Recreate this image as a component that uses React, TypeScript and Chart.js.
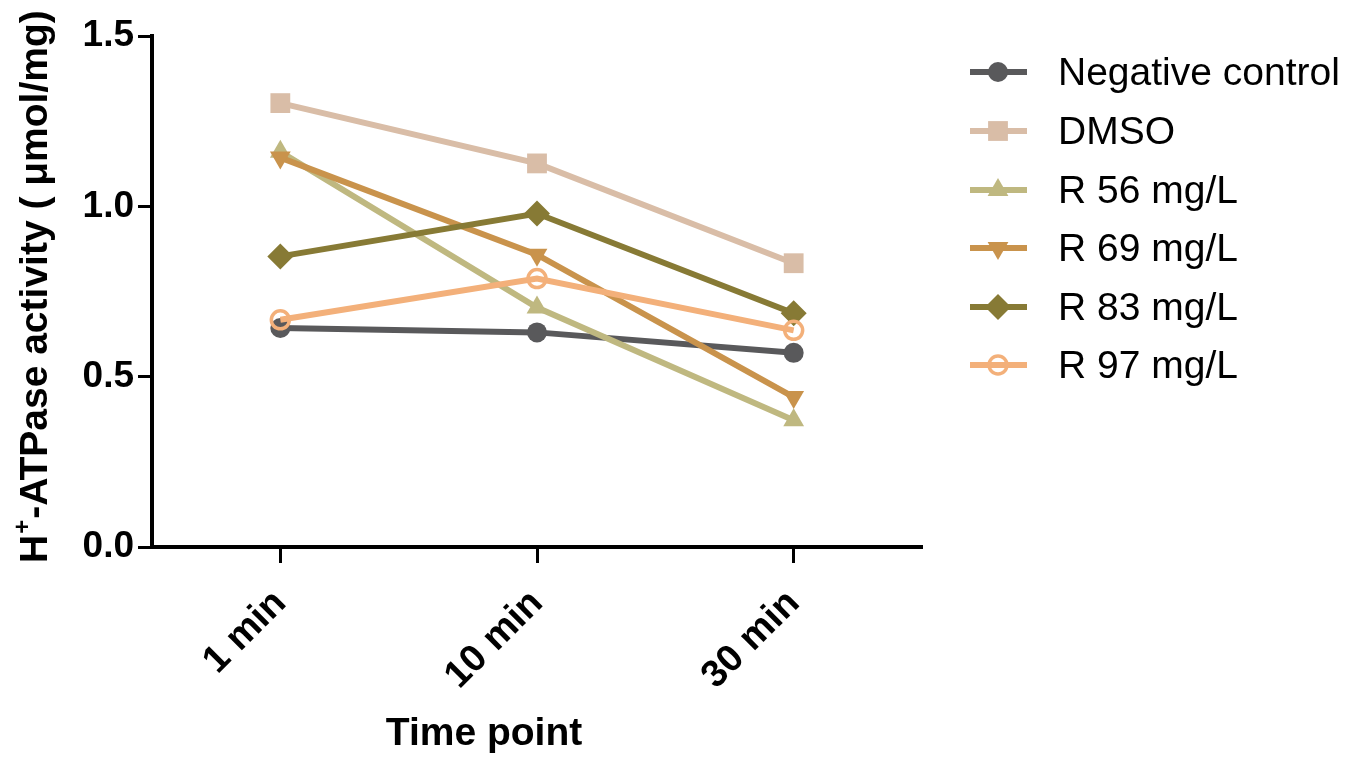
import React, { useEffect, useRef } from "react";
import { Chart, registerables } from "chart.js";

Chart.register(...registerables);

const categories = ["1 min", "10 min", "30 min"];
const seriesNames = ["Negative control", "DMSO", "R 56 mg/L", "R 69 mg/L", "R 83 mg/L", "R 97 mg/L"];
const negativeControl = [0.643, 0.630, 0.570];
const dmso = [1.303, 1.126, 0.833];
const r56 = [1.160, 0.703, 0.372];
const r69 = [1.143, 0.858, 0.440];
const r83 = [0.853, 0.979, 0.686];
const r97 = [0.667, 0.788, 0.636];
const yTicks = [0, 0.5, 1.0, 1.5];

const colors = ["#59595b", "#d9bda7", "#bfb880", "#c9934c", "#877a35", "#f3b07a"];
const styles = ["circle", "rect", "triangle", "triangle", "rectRot", "circle"];
const rotations = [0, 0, 0, 180, 0, 0];
const radii = [10, 14, 12, 12, 13, 9];
const hollow = [false, false, false, false, false, true];

const FONT = '"Liberation Sans", Arial, sans-serif';

function drawMarker(ctx: CanvasRenderingContext2D, i: number, x: number, y: number) {
  const r = radii[i];
  const st = styles[i];
  ctx.save();
  ctx.beginPath();
  if (st === "circle") {
    ctx.arc(x, y, r, 0, Math.PI * 2);
  } else if (st === "rect") {
    const s = Math.SQRT1_2 * r;
    ctx.rect(x - s, y - s, 2 * s, 2 * s);
  } else if (st === "triangle") {
    let rad = (rotations[i] * Math.PI) / 180;
    ctx.moveTo(x + Math.sin(rad) * r, y - Math.cos(rad) * r);
    rad += (2 * Math.PI) / 3;
    ctx.lineTo(x + Math.sin(rad) * r, y - Math.cos(rad) * r);
    rad += (2 * Math.PI) / 3;
    ctx.lineTo(x + Math.sin(rad) * r, y - Math.cos(rad) * r);
    ctx.closePath();
  } else if (st === "rectRot") {
    ctx.moveTo(x - r, y);
    ctx.lineTo(x, y + r);
    ctx.lineTo(x + r, y);
    ctx.lineTo(x, y - r);
    ctx.closePath();
  }
  if (hollow[i]) {
    ctx.lineWidth = 3.5;
    ctx.strokeStyle = colors[i];
    ctx.stroke();
  } else {
    ctx.fillStyle = colors[i];
    ctx.fill();
  }
  ctx.restore();
}

const decorPlugin = {
  id: "decor",
  afterDraw(chart: any) {
    const ctx: CanvasRenderingContext2D = chart.ctx;
    ctx.save();
    // Legend
    const rowY = [72, 131, 190, 248, 307, 365];
    seriesNames.forEach((name, i) => {
      const y = rowY[i];
      ctx.strokeStyle = colors[i];
      ctx.lineWidth = 6;
      ctx.beginPath();
      ctx.moveTo(970, y);
      ctx.lineTo(1027, y);
      ctx.stroke();
      drawMarker(ctx, i, 998, y);
      ctx.fillStyle = "#000";
      ctx.font = `39px ${FONT}`;
      ctx.textAlign = "left";
      ctx.textBaseline = "middle";
      ctx.fillText(name, 1058, y + 2);
    });
    // Y axis title with superscript
    ctx.save();
    ctx.translate(47, 563);
    ctx.rotate(-Math.PI / 2);
    ctx.fillStyle = "#000";
    ctx.textAlign = "left";
    ctx.textBaseline = "alphabetic";
    ctx.font = `bold 39px ${FONT}`;
    const wH = ctx.measureText("H").width;
    ctx.fillText("H", 0, 0);
    ctx.font = `bold 24px ${FONT}`;
    const wP = ctx.measureText("+").width;
    ctx.fillText("+", wH + 1, -17);
    ctx.font = `bold 39px ${FONT}`;
    ctx.fillText("-ATPase activity ( \u03bcmol/mg)", wH + wP + 2, 0);
    ctx.restore();
    // X axis title
    ctx.fillStyle = "#000";
    ctx.font = `bold 39px ${FONT}`;
    ctx.textAlign = "center";
    ctx.textBaseline = "alphabetic";
    ctx.fillText("Time point", 484, 745);
    ctx.restore();
  },
};

export default function App() {
  const canvasRef = useRef<HTMLCanvasElement | null>(null);

  useEffect(() => {
    if (!canvasRef.current) return;
    const values = [negativeControl, dmso, r56, r69, r83, r97];
    const chart = new Chart(canvasRef.current, {
      type: "line",
      data: {
        labels: categories,
        datasets: values.map((data, i) => ({
          label: seriesNames[i],
          data,
          borderColor: colors[i],
          backgroundColor: colors[i],
          borderWidth: 6,
          pointStyle: styles[i] as any,
          pointRotation: rotations[i],
          pointRadius: radii[i],
          pointBorderWidth: hollow[i] ? 3.5 : 0,
          pointBorderColor: colors[i],
          pointBackgroundColor: hollow[i] ? "rgba(255,255,255,0)" : colors[i],
          tension: 0,
          order: 5 - i,
          clip: false as any,
        })),
      },
      options: {
        animation: false,
        responsive: false,
        devicePixelRatio: 1,
        layout: { padding: { left: 0, top: 36, right: 428, bottom: 0 } },
        plugins: {
          legend: { display: false },
          tooltip: { enabled: false },
          title: { display: false },
        },
        scales: {
          x: {
            type: "category",
            offset: true,
            afterFit: (scale: any) => {
              scale.height = 215;
            },
            border: { display: true, color: "#000", width: 4 },
            grid: {
              display: true,
              drawOnChartArea: false,
              drawTicks: true,
              tickLength: 16,
              tickWidth: 3,
              tickColor: "#000",
              offset: false,
            },
            ticks: {
              color: "#000",
              font: { family: FONT, size: 38, weight: "bold" },
              maxRotation: 45,
              minRotation: 45,
              padding: 18,
            },
          },
          y: {
            min: 0,
            max: 1.5,
            afterFit: (scale: any) => {
              scale.width = 152;
            },
            afterBuildTicks: (scale: any) => {
              scale.ticks = yTicks.map((v) => ({ value: v }));
            },
            border: { display: true, color: "#000", width: 4 },
            grid: {
              display: true,
              drawOnChartArea: false,
              drawTicks: true,
              tickLength: 14,
              tickWidth: 3,
              tickColor: "#000",
            },
            ticks: {
              color: "#000",
              font: { family: FONT, size: 37, weight: "bold" },
              padding: 4,
              callback: (v: any) => Number(v).toFixed(1),
            },
          },
        },
      },
      plugins: [decorPlugin],
    });
    return () => chart.destroy();
  }, []);

  return (
    <div style={{ position: "fixed", left: 0, top: 0, width: 1350, height: 762, background: "#fff" }}>
      <canvas ref={canvasRef} width={1350} height={762} style={{ width: 1350, height: 762 }} />
    </div>
  );
}
